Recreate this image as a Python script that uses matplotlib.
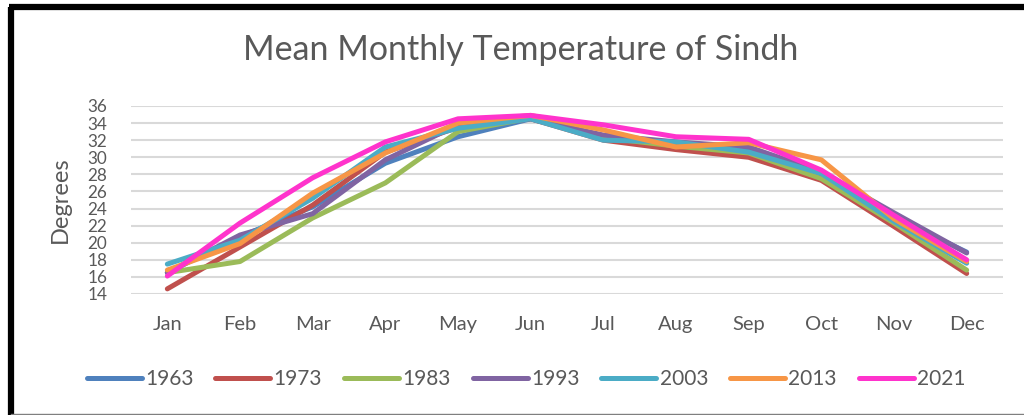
import matplotlib.pyplot as plt
from matplotlib.lines import Line2D

plt.rcParams['font.family'] = ['Lato', 'DejaVu Sans']

months = ["Jan", "Feb", "Mar", "Apr", "May", "Jun",
          "Jul", "Aug", "Sep", "Oct", "Nov", "Dec"]
years = ["1963", "1973", "1983", "1993", "2003", "2013", "2021"]

t1963 = [16.5, 20.7, 24.2, 29.3, 32.4, 34.5, 32.2, 31.2, 30.8, 27.8, 23.0, 18.9]
t1973 = [14.6, 19.5, 24.4, 30.6, 33.5, 34.5, 32.0, 30.9, 30.0, 27.3, 21.9, 16.4]
t1983 = [16.5, 17.8, 22.9, 27.0, 33.0, 34.6, 32.3, 31.3, 30.5, 27.5, 22.3, 16.8]
t1993 = [16.5, 20.9, 23.4, 29.7, 33.8, 34.5, 32.6, 31.8, 31.2, 28.3, 23.5, 18.8]
t2003 = [17.5, 20.3, 25.2, 31.2, 33.4, 34.5, 32.0, 31.8, 30.6, 28.1, 22.5, 17.6]
t2013 = [16.8, 19.9, 25.8, 30.5, 34.0, 34.9, 33.2, 31.2, 31.7, 29.7, 22.8, 17.8]
t2021 = [16.1, 22.3, 27.6, 31.8, 34.5, 34.9, 33.8, 32.4, 32.1, 28.5, 23.2, 18.0]
series = [t1963, t1973, t1983, t1993, t2003, t2013, t2021]

colors = ["#4F81BD", "#C0504D", "#9BBB59", "#8064A2", "#4BACC6", "#F79646", "#FF33CC"]
text_col = "#595959"

fig = plt.figure(figsize=(10.24, 4.15), dpi=100)
ax = fig.add_axes([131 / 1024, 1 - 294 / 415, 872 / 1024, 188 / 415])

x = list(range(len(months)))
for vals, c, yr in zip(series, colors, years):
    ax.plot(x, vals, color=c, lw=3.6, solid_capstyle='round',
            solid_joinstyle='round', label=yr)

ax.set_xlim(-0.5, 11.5)
ax.set_ylim(14, 36)
ax.set_yticks(range(14, 37, 2))
ax.set_xticks(x)
ax.set_xticklabels(months)
ax.grid(axis='y', color='#d9d9d9', lw=1.5)
ax.set_axisbelow(True)
for s in ax.spines.values():
    s.set_visible(False)
ax.tick_params(length=0, colors=text_col)
# the reference packs these very tightly; keep them just small enough not to collide
ax.tick_params(axis='y', pad=17, labelsize=12.3)
ax.tick_params(axis='x', pad=16, labelsize=14.5)
ax.set_ylabel("Degrees", color=text_col, fontsize=17, labelpad=12)

fig.text(521 / 1024, 1 - 50 / 415, "Mean Monthly Temperature of Sindh",
         ha='center', va='center', fontsize=24.5, color=text_col)

handles = [Line2D([], [], color=c, lw=3.6, solid_capstyle='round') for c in colors]
fig.legend(handles, years, loc='center', bbox_to_anchor=(526 / 1024, 1 - 379 / 415),
           ncol=7, frameon=False, fontsize=15, handlelength=2.65,
           handletextpad=0.15, columnspacing=1.05, labelcolor=text_col)

# border of the picture
fig.add_artist(Line2D([11 / 1024, 11 / 1024], [0, 1 - 7 / 415], color='black', lw=4.5,
                      transform=fig.transFigure, solid_capstyle='butt'))
fig.add_artist(Line2D([9 / 1024, 1], [1 - 7 / 415, 1 - 7 / 415], color='black', lw=4.5,
                      transform=fig.transFigure, solid_capstyle='butt'))
fig.add_artist(Line2D([11 / 1024, 1], [1.5 / 415, 1.5 / 415], color='#7f7f7f', lw=1,
                      transform=fig.transFigure))

fig.savefig("out.png", dpi=100)
